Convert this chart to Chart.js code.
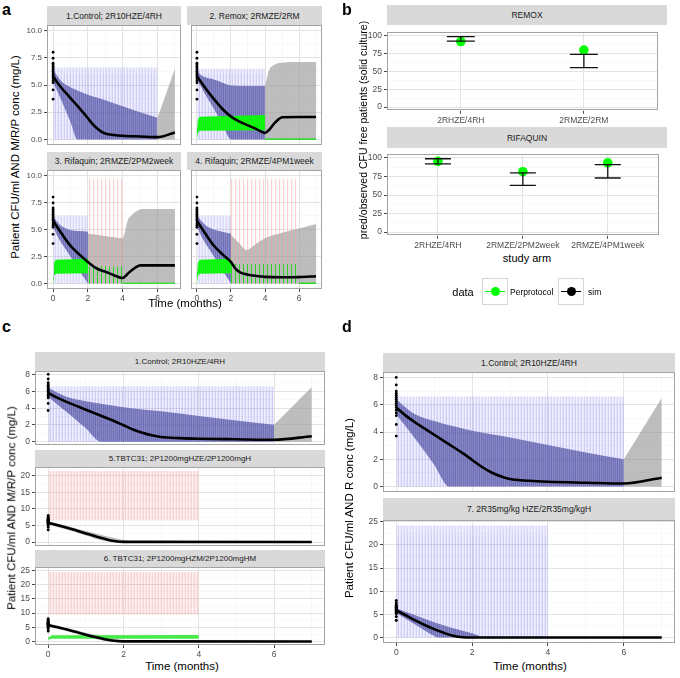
<!DOCTYPE html>
<html><head><meta charset="utf-8">
<script src="https://cdn.jsdelivr.net/npm/chart.js@4.4.1/dist/chart.umd.min.js"></script>
<style>
html,body{margin:0;padding:0;background:#fff}
body{width:680px;height:678px;position:relative;overflow:hidden;font-family:"Liberation Sans",Arial,Helvetica,sans-serif;color:#000}
canvas{position:absolute}
.strip{position:absolute;background:#d9d9d9;color:#1a1a1a;display:flex;align-items:center;justify-content:center;white-space:nowrap;font-size:8.5px}
.t{position:absolute;white-space:nowrap;transform:translate(-50%,-50%);line-height:1}
.tl{position:absolute;white-space:nowrap;transform:translate(0,-50%);line-height:1}
.r{transform:translate(-50%,-50%) rotate(-90deg)}
.letter{position:absolute;font-weight:bold;font-size:16px;line-height:1}
.key{position:absolute;width:26px;height:27px;border:1px solid #d6d6d6;box-sizing:border-box;background:#fff}
.kl{position:absolute;left:2px;right:2px;top:11.5px;height:1.6px}
.kp{position:absolute;left:7.5px;top:7.5px;width:9px;height:9px;border-radius:50%}
</style></head><body>
<script>
const FONT = '"Liberation Sans", Arial, Helvetica, sans-serif';

// ---------------- axis ticks ----------------
const monthMajor = [0, 2, 4, 6];
const monthMinor = [1, 3, 5, 7];
const concMajorA = [0, 2.5, 5, 7.5, 10];
const concMinorA = [1.25, 3.75, 6.25, 8.75];
const concMajor8 = [0, 2, 4, 6, 8];
const concMinor8 = [1, 3, 5, 7];
const concMajor20 = [0, 5, 10, 15, 20];
const concMinor20 = [2.5, 7.5, 12.5, 17.5];
const concMajor25 = [0, 5, 10, 15, 20, 25];
const concMinor25 = [2.5, 7.5, 12.5, 17.5, 22.5];
const pctMajor = [0, 25, 50, 75, 100];
const pctMinor = [12.5, 37.5, 62.5, 87.5];

// ---------------- observed baseline log10 CFU (t = 0) ----------------
const obsCFU = [8.0, 7.45, 7.0, 6.85, 6.7, 6.55, 6.4, 6.25, 6.1, 5.95, 5.8, 5.6, 5.4, 5.2, 4.55, 3.7];

// ---------------- 1. Control; 2R10HZE/4RH ----------------
const ctrlMedT  = [0, 0.25, 0.5, 0.75, 1, 1.25, 1.5, 1.75, 2, 2.25, 2.5, 2.75, 3, 3.5, 4, 5, 6, 7];
const ctrlMed   = [5.8, 5.2, 4.7, 4.25, 3.8, 3.35, 2.9, 2.45, 1.95, 1.45, 1.05, 0.75, 0.55, 0.42, 0.35, 0.28, 0.22, 0.65];
const ctrlRibT  = [0, 0.25, 0.5, 1, 1.4, 2, 3, 4, 5, 6];
const ctrlRibLo = [5.3, 4.4, 3.5, 1.6, 0, 0, 0, 0, 0, 0];
const ctrlRibHi = [6.4, 5.8, 5.3, 4.8, 4.5, 4.1, 3.6, 3.05, 2.5, 2.0];
const ctrlGrayT  = [6, 7];
const ctrlGrayLo = [0, 0];
const ctrlGrayHi = [2.0, 6.5];
const ctrlRT    = [0, 6];
const ctrlRLo   = [0, 0];
const ctrlRHi   = [6.6, 6.6];
const ctrlRCore = [6.0, 6.0];

// ---------------- 2. Remox; 2RMZE/2RM ----------------
const remMedT  = [0, 0.5, 1, 1.5, 2, 2.5, 3, 3.5, 4, 4.25, 4.5, 4.75, 5, 6, 7];
const remMed   = [5.8, 4.7, 3.7, 2.8, 2.1, 1.65, 1.3, 0.95, 0.6, 0.9, 1.4, 1.8, 2.05, 2.07, 2.07];
const remRibT  = [0, 0.25, 0.5, 1, 1.5, 2, 3, 4];
const remRibLo = [5.5, 4.8, 4.1, 2.8, 1.4, 0, 0, 0];
const remRibHi = [6.3, 5.9, 5.7, 5.5, 5.2, 4.95, 4.9, 4.9];
const remGrayT  = [4, 4.1, 4.25, 4.5, 4.75, 5, 6, 7];
const remGrayLo = [0, 0, 0, 0, 0, 0, 0, 0];
const remGrayHi = [4.9, 5.6, 6.4, 6.8, 7.0, 7.05, 7.1, 7.1];
const remRT    = [0, 4];
const remRLo   = [0, 0];
const remRHi   = [6.5, 6.5];
const remRCore = [6.0, 6.0];
const remMT    = [0, 0.05, 0.15, 4];
const remMLo   = [0, 0.6, 0.8, 0.85];
const remMHi   = [0.6, 1.8, 2.1, 2.25];
const remMOffT = [4, 7];
const remMOff  = [0.03, 0.03];

// ---------------- 3. Rifaquin; 2RMZE/2PM2week ----------------
const rq2MedT  = [0, 0.5, 1, 1.5, 2, 2.5, 3, 3.5, 4, 4.25, 4.5, 4.75, 5, 6, 7];
const rq2Med   = [5.8, 4.6, 3.5, 2.7, 2.0, 1.4, 1.1, 0.78, 0.52, 0.85, 1.22, 1.5, 1.68, 1.68, 1.68];
const rq2RibT  = [0, 0.25, 0.5, 1, 1.5, 2];
const rq2RibLo = [5.3, 4.4, 3.7, 2.5, 1.2, 0];
const rq2RibHi = [6.2, 5.7, 5.3, 4.95, 4.85, 4.8];
const rq2GrayT  = [2, 3, 4, 4.1, 4.3, 4.5, 4.7, 5, 5.1, 7];
const rq2GrayLo = [0, 0, 0, 0, 0, 0, 0, 0, 0, 0];
const rq2GrayHi = [4.6, 4.4, 4.2, 4.6, 5.9, 6.3, 6.6, 6.85, 6.9, 6.9];
const rq2RT  = [0, 2];
const rq2RLo = [0, 0];
const rq2RHi = [6.3, 6.3];
const rq2PT  = [2, 4];
const rq2PLo = [0, 0];
const rq2PHi = [9.7, 9.7];
const rq2MT  = [0, 0.05, 0.15, 2];
const rq2MLo = [0, 0.7, 0.9, 0.95];
const rq2MHi = [0.6, 1.9, 2.2, 2.3];
const rq2MwT  = [2, 4];
const rq2MwLo = [0, 0];
const rq2MwHi = [1.6, 1.6];
const rq2MOffT = [4, 7];
const rq2MOff  = [0.03, 0.03];

// ---------------- 4. Rifaquin; 2RMZE/4PM1week ----------------
const rq1MedT  = [0, 0.5, 1, 1.5, 2, 2.25, 2.5, 3, 3.5, 4, 5, 6, 7];
const rq1Med   = [5.8, 4.6, 3.5, 2.7, 2.0, 1.4, 1.07, 0.82, 0.7, 0.62, 0.58, 0.6, 0.68];
const rq1RibT  = [0, 0.25, 0.5, 1, 1.5, 2];
const rq1RibLo = [5.3, 4.4, 3.7, 2.5, 1.2, 0];
const rq1RibHi = [6.3, 5.8, 5.4, 5.0, 4.8, 4.6];
const rq1GrayT  = [2, 2.5, 2.9, 3.5, 4, 5, 6, 7];
const rq1GrayLo = [0, 0, 0, 0, 0, 0, 0, 0];
const rq1GrayHi = [4.5, 3.7, 3.1, 3.7, 4.2, 4.7, 5.1, 5.5];
const rq1RT  = [0, 2];
const rq1RLo = [0, 0];
const rq1RHi = [6.3, 6.3];
const rq1PT  = [2, 6];
const rq1PLo = [0, 0];
const rq1PHi = [9.7, 9.7];
const rq1MT  = [0, 0.05, 0.15, 2];
const rq1MLo = [0, 0.7, 0.9, 0.95];
const rq1MHi = [0.6, 1.9, 2.2, 2.3];
const rq1MwT  = [2, 6];
const rq1MwLo = [0, 0];
const rq1MwHi = [1.8, 1.8];
const rq1MOffT = [6, 7];
const rq1MOff  = [0.03, 0.03];

// ---------------- 5. TBTC31; 2P1200mgHZE/2P1200mgH ----------------
const tbMedT     = [0, 0.25, 0.5, 0.75, 1, 1.25, 1.5, 1.75, 2, 7];
const tbHzeMed   = [5.8, 5.05, 4.3, 3.45, 2.6, 1.75, 0.95, 0.3, 0.03, 0];
const tbRibT     = [0, 0.5, 1, 1.5, 2, 2.3];
const tbHzeRibLo = [5.3, 3.7, 2.0, 0.3, 0, 0];
const tbHzeRibHi = [6.3, 4.8, 3.3, 1.9, 0.6, 0];
const tbPT       = [0, 4];
const tbHzePLo   = [6.5, 6.5];
const tbHzePHi   = [21.4, 21.4];

// ---------------- 6. TBTC31; 2P1200mgHZM/2P1200mgHM ----------------
const tbHzmMed   = [5.8, 5.0, 4.2, 3.3, 2.4, 1.55, 0.8, 0.25, 0.02, 0];
const tbHzmRibLo = [5.3, 3.6, 1.8, 0.2, 0, 0];
const tbHzmRibHi = [6.3, 4.7, 3.1, 1.7, 0.5, 0];
const tbHzmPLo   = [9.5, 9.5];
const tbHzmPHi   = [24.5, 24.5];
const tbMT  = [0, 0.1, 4];
const tbMLo = [0.6, 1.0, 1.0];
const tbMHi = [1.3, 2.2, 2.3];

// ---------------- 7. 2R35mg/kg HZE/2R35mg/kgH ----------------
const hdMedT  = [0, 0.25, 0.5, 0.75, 1, 1.25, 1.5, 1.75, 2, 7];
const hdMed   = [5.85, 4.8, 3.7, 2.7, 1.8, 1.0, 0.36, 0.05, 0, 0];
const hdRibT  = [0, 0.5, 1, 1.1, 1.5, 2, 2.3];
const hdRibLo = [5.3, 2.8, 0.3, 0, 0, 0, 0];
const hdRibHi = [6.3, 4.8, 3.3, 3.0, 2.0, 0.9, 0];
const hdRT    = [0, 4];
const hdRLo   = [0, 0];
const hdRHi   = [24.2, 24.2];
const hdRCore = [22.0, 22.0];

// ---------------- panel b: CFU-free patients ----------------
const remoxArms  = ['2RHZE/4RH', '2RMZE/2RM'];
const remoxObs   = [92, 80];
const remoxSimLo = [92.5, 55.5];
const remoxSimHi = [99, 74];
const rifaArms   = ['2RHZE/4RH', '2RMZE/2PM2week', '2RMZE/4PM1week'];
const rifaObs    = [95.5, 81.5, 93.5];
const rifaSimLo  = [92, 63, 73];
const rifaSimHi  = [99, 80, 91];

// ================= helpers =================
function pattern(cols) {
  const c = document.createElement('canvas');
  c.width = cols.length; c.height = 4;
  const g = c.getContext('2d');
  cols.forEach((col, i) => { g.fillStyle = col; g.fillRect(i, 0, 1, 4); });
  return g.createPattern(c, 'repeat');
}
const T0 = 'rgba(0,0,0,0)';
const P = {
  rOuter: pattern(['rgba(110,110,235,0.26)', 'rgba(110,110,235,0.11)', 'rgba(110,110,235,0.16)']),
  rCore: pattern(['rgba(110,110,235,0.10)', T0, 'rgba(110,110,235,0.05)']),
  rib: pattern(['rgba(85,85,165,0.80)', 'rgba(100,100,178,0.72)']),
  pinkDense: pattern(['rgba(240,130,130,0.34)', 'rgba(240,130,130,0.12)', 'rgba(240,130,130,0.2)']),
  pinkSparse: pattern(['rgba(255,150,150,0.45)', 'rgba(255,150,150,0.08)', T0, T0]),
  green: pattern(['rgb(0,255,0)', 'rgb(30,235,30)']),
  greenSparse: pattern(['rgba(0,225,0,0.8)', T0, T0, T0]),
  greenLight: 'rgba(40,230,40,0.85)'
};
const GRAY = 'rgba(145,145,145,0.6)';

function pts(xs, ys) { return xs.map((x, i) => ({ x: x, y: ys[i] })); }
function bandDs(xs, lo, hi, fillStyle, order, smooth) {
  const mode = smooth ? 'monotone' : 'default';
  return [
    { data: pts(xs, lo), borderWidth: 0, pointRadius: 0, fill: false, order: order, cubicInterpolationMode: mode },
    { data: pts(xs, hi), borderWidth: 0, pointRadius: 0, fill: '-1', backgroundColor: fillStyle, order: order, cubicInterpolationMode: mode }
  ];
}
function lineDs(xs, ys, color, width, order) {
  return { data: pts(xs, ys), borderColor: color, borderWidth: width, pointRadius: 0, fill: false, cubicInterpolationMode: 'monotone', order: order };
}
function obsDs(r) {
  return { data: obsCFU.map(v => ({ x: 0, y: v })), showLine: false, pointRadius: r || 1.4, pointBackgroundColor: '#000', pointBorderWidth: 0, order: 0 };
}

const panelBorder = {
  id: 'panelBorder',
  afterDraw(chart) {
    const { ctx, chartArea: a } = chart;
    ctx.save();
    ctx.strokeStyle = '#a3a3a3'; ctx.lineWidth = 1;
    ctx.strokeRect(Math.round(a.left) + 0.5, Math.round(a.top) + 0.5, Math.round(a.right - a.left) - 1, Math.round(a.bottom - a.top) - 1);
    ctx.restore();
  }
};

function axis(horizontal, cfg, size) {
  const isMaj = v => cfg.major.indexOf(v) >= 0;
  return {
    type: 'linear', min: cfg.min, max: cfg.max, offset: false,
    afterBuildTicks: ax => { ax.ticks = cfg.major.concat(cfg.minor).sort((a, b) => a - b).map(v => ({ value: v })); },
    afterFit: ax => { if (horizontal) ax.height = size; else ax.width = size; },
    border: { display: false },
    grid: {
      display: true, drawOnChartArea: true, drawTicks: !!cfg.show, tickLength: 3, tickWidth: 0.9,
      color: c => (c.tick && isMaj(c.tick.value)) ? '#e3e3e3' : '#f3f3f3',
      lineWidth: c => (c.tick && isMaj(c.tick.value)) ? 1 : 0.6,
      tickColor: c => (c.tick && isMaj(c.tick.value)) ? '#333' : T0
    },
    ticks: {
      display: !!cfg.show, autoSkip: false, maxRotation: 0, minRotation: 0, padding: 2, color: '#4d4d4d',
      font: { family: FONT, size: cfg.fs || 8 },
      callback: v => isMaj(v) ? (cfg.fmt ? cfg.fmt(v) : String(v)) : ''
    }
  };
}

function makeChart(plot, yW, xH, xCfg, yCfg, datasets) {
  const padT = 8, padR = 6, padB = xH >= 8 ? 0 : 8;
  const c = document.createElement('canvas');
  const w = plot.r - plot.l + yW + padR, h = plot.b - plot.t + padT + xH + padB;
  c.width = w; c.height = h;
  c.style.left = (plot.l - yW) + 'px'; c.style.top = (plot.t - padT) + 'px';
  c.style.width = w + 'px'; c.style.height = h + 'px';
  document.body.appendChild(c);
  return new Chart(c.getContext('2d'), {
    type: 'line',
    data: { datasets: datasets },
    options: {
      responsive: false, animation: false, devicePixelRatio: 1, events: [],
      layout: { padding: { top: padT, right: padR, left: 0, bottom: padB } },
      plugins: { legend: { display: false }, tooltip: { enabled: false }, title: { display: false } },
      elements: { line: { tension: 0 } },
      scales: { x: axis(true, xCfg, xH), y: axis(false, yCfg, yW) }
    },
    plugins: [panelBorder]
  });
}

function strip(l, t, w, h, text, fs) {
  const d = document.createElement('div');
  d.className = 'strip';
  d.style.left = l + 'px'; d.style.top = t + 'px'; d.style.width = w + 'px'; d.style.height = h + 'px';
  if (fs) d.style.fontSize = fs + 'px';
  d.textContent = text;
  document.body.appendChild(d);
}
function txt(text, x, y, size, cls) {
  const d = document.createElement('div');
  d.className = cls || 't';
  d.style.left = x + 'px'; d.style.top = y + 'px'; d.style.fontSize = size + 'px';
  d.textContent = text;
  document.body.appendChild(d);
  return d;
}

// ================= dataset sets =================
const MED_W = 2.6;
function controlSet() {
  return [
    ...bandDs(ctrlRT, ctrlRLo, ctrlRHi, P.rOuter, 10),
    ...bandDs(ctrlRT, ctrlRLo, ctrlRCore, P.rCore, 10),
    ...bandDs(ctrlRibT, ctrlRibLo, ctrlRibHi, P.rib, 9, true),
    ...bandDs(ctrlGrayT, ctrlGrayLo, ctrlGrayHi, GRAY, 8),
    lineDs(ctrlMedT, ctrlMed, '#000', MED_W, 2),
    obsDs()
  ];
}
function remoxSet() {
  return [
    ...bandDs(remRT, remRLo, remRHi, P.rOuter, 10),
    ...bandDs(remRT, remRLo, remRCore, P.rCore, 10),
    ...bandDs(remRibT, remRibLo, remRibHi, P.rib, 9, true),
    ...bandDs(remGrayT, remGrayLo, remGrayHi, GRAY, 8, true),
    ...bandDs(remMT, remMLo, remMHi, P.green, 6),
    lineDs(remMOffT, remMOff, '#00e000', 1.2, 5),
    lineDs(remMedT, remMed, '#000', MED_W, 2),
    obsDs()
  ];
}
function rifaquinSet(rT, rLo, rHi, ribT, ribLo, ribHi, gT, gLo, gHi, pT, pLo, pHi, mT, mLo, mHi, mwT, mwLo, mwHi, moT, mo, medT, med) {
  return [
    ...bandDs(rT, rLo, rHi, P.rOuter, 10),
    ...bandDs(ribT, ribLo, ribHi, P.rib, 9, true),
    ...bandDs(gT, gLo, gHi, GRAY, 8, true),
    ...bandDs(pT, pLo, pHi, P.pinkSparse, 7),
    ...bandDs(mT, mLo, mHi, P.green, 6),
    ...bandDs(mwT, mwLo, mwHi, P.greenSparse, 6),
    lineDs(moT, mo, '#00e000', 1.2, 5),
    lineDs(medT, med, '#000', MED_W, 2),
    obsDs()
  ];
}

// ================= axis configs =================
const xHidden = { min: -0.35, max: 7.35, major: monthMajor, minor: monthMinor, show: false };
const xShown  = { min: -0.35, max: 7.35, major: monthMajor, minor: monthMinor, show: true, fs: 8.5 };
const yA      = { min: -0.5, max: 10.5, major: concMajorA, minor: concMinorA, show: true, fmt: v => v.toFixed(1) };
const yAhid   = { min: -0.5, max: 10.5, major: concMajorA, minor: concMinorA, show: false };
const y8      = { min: -0.4, max: 8.4, major: concMajor8, minor: concMinor8, show: true, fs: 8.5 };
const y20     = { min: -1.2, max: 22.6, major: concMajor20, minor: concMinor20, show: true, fs: 8.5 };
const y25c    = { min: -1.25, max: 26.3, major: concMajor25, minor: concMinor25, show: true, fs: 8.5 };
const y25d    = { min: -1.2, max: 25.4, major: concMajor25, minor: concMinor25, show: true, fs: 8.5 };

// ================= panel a =================
makeChart({ l: 47, t: 25, r: 181, b: 145 }, 22, 0, xHidden, yA, controlSet());
makeChart({ l: 187, t: 25, r: 322, b: 145 }, 0, 0, xHidden, yAhid, remoxSet());
makeChart({ l: 47, t: 170, r: 181, b: 289 }, 22, 15, xShown, yA,
  rifaquinSet(rq2RT, rq2RLo, rq2RHi, rq2RibT, rq2RibLo, rq2RibHi, rq2GrayT, rq2GrayLo, rq2GrayHi,
    rq2PT, rq2PLo, rq2PHi, rq2MT, rq2MLo, rq2MHi, rq2MwT, rq2MwLo, rq2MwHi, rq2MOffT, rq2MOff, rq2MedT, rq2Med));
makeChart({ l: 187, t: 170, r: 322, b: 289 }, 0, 15, xShown, yAhid,
  rifaquinSet(rq1RT, rq1RLo, rq1RHi, rq1RibT, rq1RibLo, rq1RibHi, rq1GrayT, rq1GrayLo, rq1GrayHi,
    rq1PT, rq1PLo, rq1PHi, rq1MT, rq1MLo, rq1MHi, rq1MwT, rq1MwLo, rq1MwHi, rq1MOffT, rq1MOff, rq1MedT, rq1Med));

// ================= panel b =================
function armChart(plot, arms, obs, lo, hi, whisker) {
  const idx = arms.map((_, i) => i);
  const ds = [];
  arms.forEach((a, i) => {
    ds.push({ data: [{ x: i, y: lo[i] }, { x: i, y: hi[i] }], borderColor: '#111', borderWidth: 1.3,
      pointStyle: 'line', pointRadius: whisker, pointBorderColor: '#111', pointBorderWidth: 1.3, fill: false, order: 1 });
  });
  ds.push({ data: pts(idx, obs), showLine: false, pointRadius: 4.8, pointBackgroundColor: '#00ff00',
    pointBorderColor: '#00ff00', pointBorderWidth: 0, order: 2 });
  const xc = { min: -0.6, max: arms.length - 0.4, major: idx, minor: [], show: true, fs: 8.5, fmt: v => arms[v] };
  const yc = { min: -5, max: 105, major: pctMajor, minor: pctMinor, show: true, fs: 8.5 };
  makeChart(plot, 22, 14, xc, yc, ds);
}
armChart({ l: 387, t: 25, r: 667, b: 112 }, remoxArms, remoxObs, remoxSimLo, remoxSimHi, 14);
armChart({ l: 387, t: 148, r: 667, b: 236 }, rifaArms, rifaObs, rifaSimLo, rifaSimHi, 13);

// ================= panel c =================
makeChart({ l: 35, t: 371, r: 325, b: 445 }, 18, 0, xHidden, y8, controlSet());
makeChart({ l: 35, t: 467, r: 325, b: 546 }, 18, 0, xHidden, y20, [
  ...bandDs(tbPT, tbHzePLo, tbHzePHi, P.pinkDense, 10),
  ...bandDs(tbRibT, tbHzeRibLo, tbHzeRibHi, GRAY, 8, true),
  lineDs(tbMedT, tbHzeMed, '#000', MED_W, 2),
  obsDs(1.5)
]);
makeChart({ l: 35, t: 567, r: 325, b: 645 }, 18, 15, xShown, y25c, [
  ...bandDs(tbPT, tbHzmPLo, tbHzmPHi, P.pinkDense, 10),
  ...bandDs(tbRibT, tbHzmRibLo, tbHzmRibHi, GRAY, 8, true),
  ...bandDs(tbMT, tbMLo, tbMHi, P.greenLight, 6),
  lineDs(tbMedT, tbHzmMed, '#000', MED_W, 2),
  obsDs(1.5)
]);

// ================= panel d =================
makeChart({ l: 383, t: 372, r: 675, b: 492 }, 18, 0, xHidden, y8, controlSet());
makeChart({ l: 383, t: 520, r: 675, b: 643 }, 18, 15, xShown, y25d, [
  ...bandDs(hdRT, hdRLo, hdRHi, P.rOuter, 10),
  ...bandDs(hdRT, hdRLo, hdRCore, P.rCore, 10),
  ...bandDs(hdRibT, hdRibLo, hdRibHi, P.rib, 9, true),
  lineDs(hdMedT, hdMed, '#000', MED_W, 2),
  obsDs(1.5)
]);

// ================= strips =================
strip(47, 6, 134, 19, '1.Control; 2R10HZE/4RH');
strip(187, 6, 135, 19, '2. Remox; 2RMZE/2RM');
strip(47, 152, 134, 18, '3. Rifaquin; 2RMZE/2PM2week');
strip(187, 152, 135, 18, '4. Rifaquin; 2RMZE/4PM1week');
strip(387, 5, 280, 20, 'REMOX');
strip(387, 127, 280, 21, 'RIFAQUIN');
strip(35, 352, 290, 19, '1.Control; 2R10HZE/4RH', 8);
strip(35, 450, 290, 17, '5.TBTC31; 2P1200mgHZE/2P1200mgH', 8);
strip(35, 550, 290, 17, '6. TBTC31; 2P1200mgHZM/2P1200mgHM', 8);
strip(383, 353, 292, 19, '1.Control; 2R10HZE/4RH');
strip(383, 498, 292, 22, '7. 2R35mg/kg HZE/2R35mg/kgH');

// ================= titles & letters =================
txt('a', 2, 2, 16, 'letter');
txt('b', 342, 2, 16, 'letter');
txt('c', 2, 319, 16, 'letter');
txt('d', 342, 319, 16, 'letter');
txt('Patient CFU/ml AND M/R/P conc (mg/L)', 16, 157, 11.5, 't r');
txt('Time (months)', 185, 304, 11.5);
txt('pred/observed CFU free patients (solid culture)', 363, 130, 10.5, 't r');
txt('study arm', 527, 258, 11);
txt('Patient CFU/ml AND M/R/P conc (mg/L)', 12, 508, 11.5, 't r');
txt('Time (months)', 182, 667, 11.5);
txt('Patient CFU/ml AND R conc (mg/L)', 350, 508, 11.5, 't r');
txt('Time (months)', 530, 667, 11.5);

// ================= legend (panel b) =================
txt('data', 463, 292, 11);
function key(l, color) {
  const k = document.createElement('div'); k.className = 'key';
  k.style.left = l + 'px'; k.style.top = '278px';
  const ln = document.createElement('div'); ln.className = 'kl'; ln.style.background = color;
  const pt = document.createElement('div'); pt.className = 'kp'; pt.style.background = color;
  k.appendChild(ln); k.appendChild(pt);
  document.body.appendChild(k);
}
key(482, '#00ff00');
txt('Perprotocol', 510, 292, 8.5, 'tl');
key(558, '#000');
txt('sim', 588, 292, 8.5, 'tl');
</script>
</body></html>
